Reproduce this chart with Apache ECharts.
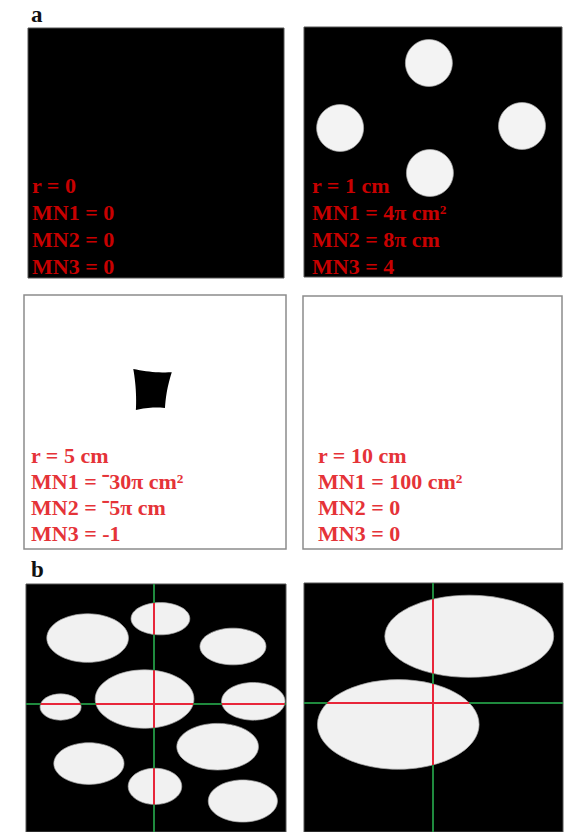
<!DOCTYPE html>
<html>
<head>
<meta charset="utf-8">
<script src="https://cdn.jsdelivr.net/npm/echarts@6/dist/echarts.min.js"></script>
<style>
  html, body { margin: 0; padding: 0; background: #fff; }
  #chart { width: 567px; height: 832px; }
</style>
</head>
<body>
<div id="chart"></div>
<script>
// ---- Data (panel coordinates in percent of each panel, y measured downward) ----

// (a) four seed disks at r = 1 cm: [cx, cy, radius]
const seedDisks = [
  [48.4, 14.4, 9.1],
  [14.0, 40.4, 9.1],
  [84.5, 39.6, 9.1],
  [48.8, 58.4, 9.1]
];

// (a) residual pore left uncovered at r = 5 cm: corner points (TL, TR, BR, BL)
const residualCorners = [
  [41.7, 29.1],
  [56.4, 30.4],
  [53.8, 44.5],
  [42.7, 45.3]
];

// (a) Minkowski numbers for each radius
const radiusLabels = ['r = 0', 'r = 1 cm', 'r = 5 cm', 'r = 10 cm'];
const mn1Labels = ['MN1 = 0', 'MN1 = 4\u03c0 cm\u00b2', 'MN1 = \u207b30\u03c0 cm\u00b2', 'MN1 = 100 cm\u00b2'];
const mn2Labels = ['MN2 = 0', 'MN2 = 8\u03c0 cm', 'MN2 = \u207b5\u03c0 cm', 'MN2 = 0'];
const mn3Labels = ['MN3 = 0', 'MN3 = 4', 'MN3 = -1', 'MN3 = 0'];

// (b) left image: pores as ellipses [cx, cy, rx, ry]
const poresLeft = [
  [23.7, 21.8, 15.7, 9.8],
  [51.7, 14.0, 11.3, 6.5],
  [79.6, 25.2, 12.7, 7.4],
  [13.3, 49.6, 7.9, 5.3],
  [45.6, 46.4, 19.0, 11.8],
  [87.4, 47.3, 12.2, 7.6],
  [73.7, 65.6, 15.7, 9.4],
  [24.2, 72.4, 13.5, 8.4],
  [49.6, 81.6, 10.3, 7.3],
  [83.4, 87.5, 13.3, 8.5]
];
// (b) right image: two large pores
const poresRight = [
  [63.8, 21.4, 32.6, 16.5],
  [36.4, 56.8, 31.2, 18.0]
];
// (b) scan lines [x of vertical line, y of horizontal line]
const scanLeft = [49.2, 48.4];
const scanRight = [49.8, 48.1];

const panels = [
  { left: 28,  top: 28,  width: 256, height: 250, bg: '#000', border: '#555', bw: 1 },
  { left: 304, top: 27,  width: 258, height: 250, bg: '#000', border: '#555', bw: 1 },
  { left: 24,  top: 295, width: 262, height: 254, bg: '#fff', border: '#8c8c8c', bw: 1.5 },
  { left: 303, top: 296, width: 259, height: 253, bg: '#fff', border: '#8c8c8c', bw: 1.5 },
  { left: 26,  top: 584, width: 260, height: 258, bg: '#000', border: '#555', bw: 1 },
  { left: 304, top: 583, width: 259, height: 259, bg: '#000', border: '#555', bw: 1 }
];

const grid = panels.map(p => ({
  show: true, left: p.left, top: p.top, width: p.width, height: p.height,
  backgroundColor: p.bg, borderColor: p.border, borderWidth: p.bw
}));
const xAxis = panels.map((p, i) => ({ type: 'value', gridIndex: i, min: 0, max: 100, show: false }));
const yAxis = panels.map((p, i) => ({ type: 'value', gridIndex: i, min: 0, max: 100, inverse: true, show: false }));

const PORE_FILL = '#f1f1f1';
const GREEN = '#1f8a3e';
const RED = '#e8263a';
const LINE_W = 2;

function ellipseSeries(idx, pores) {
  return {
    type: 'custom', xAxisIndex: idx, yAxisIndex: idx, clip: true, silent: true, z: 2,
    data: pores,
    renderItem(params, api) {
      const c = api.coord([api.value(0), api.value(1)]);
      const s = api.size([api.value(2), api.value(3)]);
      return {
        type: 'ellipse',
        shape: { cx: c[0], cy: c[1], rx: Math.abs(s[0]), ry: Math.abs(s[1]) },
        style: { fill: PORE_FILL, stroke: 'rgba(170,170,170,0.7)', lineWidth: 1 }
      };
    }
  };
}

// scan line position snapped to whole pixels so the 2px strokes stay crisp
function scanPixel(api, scan) {
  const p = api.coord(scan);
  return [Math.round(p[0]), Math.round(p[1])];
}

// full-length scan lines across the image
function scanLineSeries(idx, scan) {
  return {
    type: 'custom', xAxisIndex: idx, yAxisIndex: idx, clip: true, silent: true, z: 3,
    data: [scan],
    renderItem(params, api) {
      const cs = params.coordSys;
      const p = scanPixel(api, [api.value(0), api.value(1)]);
      return {
        type: 'group',
        children: [
          { type: 'rect', shape: { x: p[0] - LINE_W / 2, y: cs.y, width: LINE_W, height: cs.height }, style: { fill: GREEN } },
          { type: 'rect', shape: { x: cs.x, y: p[1] - LINE_W / 2, width: cs.width, height: LINE_W }, style: { fill: GREEN } }
        ]
      };
    }
  };
}

// parts of the scan lines that cross each pore (intercepts)
function chordSeries(idx, pores, scan) {
  return {
    type: 'custom', xAxisIndex: idx, yAxisIndex: idx, clip: true, silent: true, z: 5,
    data: pores,
    renderItem(params, api) {
      const c = api.coord([api.value(0), api.value(1)]);
      const s = api.size([api.value(2), api.value(3)]);
      const rx = Math.abs(s[0]), ry = Math.abs(s[1]);
      const p = scanPixel(api, scan);
      const children = [];
      const dx = (p[0] - c[0]) / rx;
      if (Math.abs(dx) < 1) {
        const h = ry * Math.sqrt(1 - dx * dx);
        children.push({ type: 'rect', shape: { x: p[0] - LINE_W / 2, y: c[1] - h, width: LINE_W, height: 2 * h }, style: { fill: RED } });
      }
      const dy = (p[1] - c[1]) / ry;
      if (Math.abs(dy) < 1) {
        const w = rx * Math.sqrt(1 - dy * dy);
        children.push({ type: 'rect', shape: { x: c[0] - w, y: p[1] - LINE_W / 2, width: 2 * w, height: LINE_W }, style: { fill: RED } });
      }
      return { type: 'group', children: children };
    }
  };
}

const series = [
  // seed disks, r = 1 cm
  {
    type: 'custom', xAxisIndex: 1, yAxisIndex: 1, clip: true, silent: true,
    data: seedDisks,
    renderItem(params, api) {
      const c = api.coord([api.value(0), api.value(1)]);
      const r = Math.abs(api.size([api.value(2), 0])[0]);
      return {
        type: 'circle', shape: { cx: c[0], cy: c[1], r: r },
        style: { fill: '#f3f3f3', stroke: 'rgba(170,170,170,0.7)', lineWidth: 1 }
      };
    }
  },
  // residual pore with concave sides, r = 5 cm
  {
    type: 'custom', xAxisIndex: 2, yAxisIndex: 2, clip: true, silent: true,
    data: [residualCorners.flat()],
    renderItem(params, api) {
      const pts = [];
      for (let i = 0; i < 4; i++) pts.push(api.coord([api.value(2 * i), api.value(2 * i + 1)]));
      const gx = pts.reduce((s, p) => s + p[0], 0) / 4;
      const gy = pts.reduce((s, p) => s + p[1], 0) / 4;
      const poly = [];
      for (let i = 0; i < 4; i++) {
        const p0 = pts[i], p1 = pts[(i + 1) % 4];
        const mx = (p0[0] + p1[0]) / 2, my = (p0[1] + p1[1]) / 2;
        const cx = mx + (gx - mx) * 0.14, cy = my + (gy - my) * 0.14;
        for (let k = 0; k < 12; k++) {
          const t = k / 12, u = 1 - t;
          poly.push([u * u * p0[0] + 2 * u * t * cx + t * t * p1[0],
                     u * u * p0[1] + 2 * u * t * cy + t * t * p1[1]]);
        }
      }
      return { type: 'polygon', shape: { points: poly }, style: { fill: '#000' } };
    }
  },
  ellipseSeries(4, poresLeft),
  ellipseSeries(5, poresRight),
  scanLineSeries(4, scanLeft),
  scanLineSeries(5, scanRight),
  chordSeries(4, poresLeft, scanLeft),
  chordSeries(5, poresRight, scanRight)
];

// text blocks for panel (a)
const textBlocks = [
  { x: 32,  y: 185, step: 27,   fill: '#c80000' },
  { x: 312, y: 185, step: 27.3, fill: '#c80000' },
  { x: 31,  y: 455, step: 26,   fill: '#e53338' },
  { x: 318, y: 455, step: 26,   fill: '#e53338' }
];
const graphic = [
  { type: 'text', x: 31, y: 14, style: { text: 'a', font: 'bold 23px "Liberation Serif", serif', fill: '#111', verticalAlign: 'middle' } },
  { type: 'text', x: 31, y: 569, style: { text: 'b', font: 'bold 23px "Liberation Serif", serif', fill: '#111', verticalAlign: 'middle' } }
];
textBlocks.forEach((tb, i) => {
  [radiusLabels[i], mn1Labels[i], mn2Labels[i], mn3Labels[i]].forEach((t, k) => {
    graphic.push({
      type: 'text', x: tb.x, y: tb.y + k * tb.step, z: 100,
      style: { text: t, font: 'bold 22px "Liberation Serif", serif', fill: tb.fill, verticalAlign: 'middle' }
    });
  });
});

const chart = echarts.init(document.getElementById('chart'), null, { renderer: 'svg' });
chart.setOption({
  animation: false,
  backgroundColor: '#fff',
  grid, xAxis, yAxis, series, graphic
});
</script>
</body>
</html>
